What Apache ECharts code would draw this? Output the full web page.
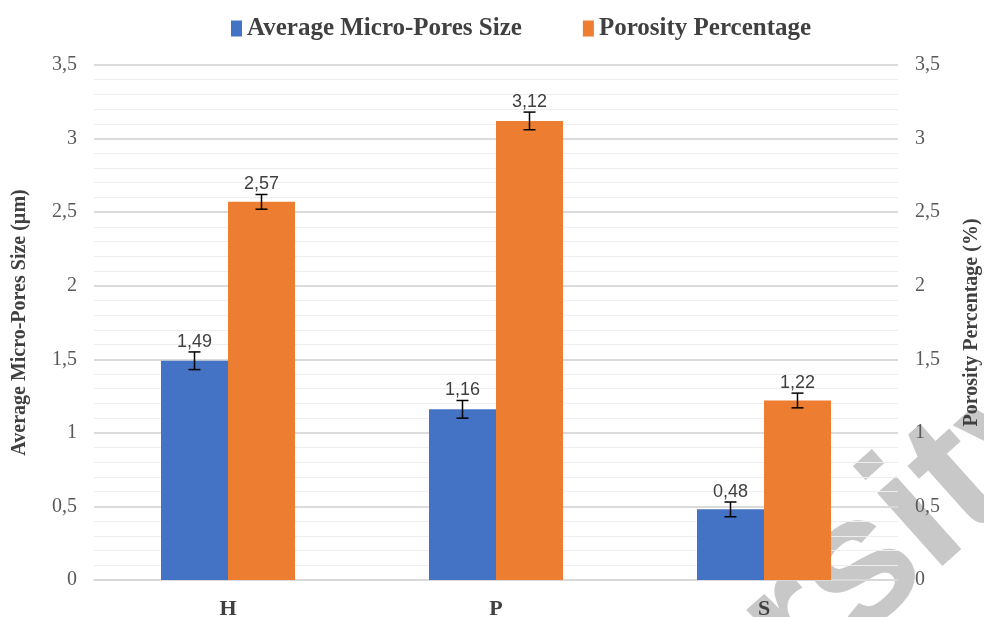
<!DOCTYPE html>
<html>
<head>
<meta charset="utf-8">
<script src="https://cdn.jsdelivr.net/npm/echarts@6/dist/echarts.min.js"></script>
<style>html,body{margin:0;padding:0;background:#fff}#c{width:984px;height:617px}</style>
</head>
<body>
<div id="c"></div>
<script>
var categories = ['H', 'P', 'S'];
var poreSize = [1.49, 1.16, 0.48];
var poreSizeErr = [0.06, 0.06, 0.05];
var porosity = [2.57, 3.12, 1.22];
var porosityErr = [0.05, 0.06, 0.05];
var seriesNames = ['Average Micro-Pores Size', 'Porosity Percentage'];
var axisNames = ['Average Micro-Pores Size (µm)', 'Porosity Percentage (%)'];
var colors = ['#4472C4', '#ED7D31'];

function comma(v) { return String(v).replace('.', ','); }

function errRenderer(values, errs, side) {
  return function (params, api) {
    var i = api.value(0);
    var v = values[i], e = errs[i];
    var band = api.size([1, 0])[0];
    var c = api.coord([i, v]);
    var x = c[0] + side * band * 0.125;
    var top = api.coord([i, v + e])[1];
    var bot = api.coord([i, v - e])[1];
    var cap = 6;
    var ls = { stroke: '#000', lineWidth: 1.5 };
    return {
      type: 'group',
      children: [
        { type: 'line', shape: { x1: x, y1: top, x2: x, y2: bot }, style: ls },
        { type: 'line', shape: { x1: x - cap, y1: top, x2: x + cap, y2: top }, style: ls },
        { type: 'line', shape: { x1: x - cap, y1: bot, x2: x + cap, y2: bot }, style: ls },
        { type: 'text', x: x, y: top - 1, style: { text: comma(v), fill: '#404040', font: '18px "Liberation Sans", Arial, sans-serif', textAlign: 'center', textVerticalAlign: 'bottom' } }
      ]
    };
  };
}

var yAxisCommon = {
  type: 'value', min: 0, max: 3.5, interval: 0.5,
  axisLine: { show: false }, axisTick: { show: false },
  axisLabel: { formatter: function (v) { return comma(v); }, color: '#595959', fontSize: 20, fontFamily: '"Liberation Serif", "Times New Roman", serif', margin: 17 },
  splitLine: { show: true, lineStyle: { color: '#d9d9d9', width: 1.5 } },
  minorTick: { show: false, splitNumber: 5 },
  minorSplitLine: { show: true, lineStyle: { color: '#eeeeee', width: 1.2 } },
  nameLocation: 'middle', nameRotate: 90,
  nameTextStyle: { fontSize: 20, fontWeight: 'bold', color: '#404040', fontFamily: '"Liberation Serif", "Times New Roman", serif' }
};

var chart = echarts.init(document.getElementById('c'), null, { renderer: 'canvas' });
chart.setOption({
  animation: false,
  backgroundColor: '#fff',
  legend: {
    top: 11, left: 226, itemGap: 61, itemWidth: 11, itemHeight: 16, icon: 'rect',
    textStyle: { fontSize: 25, fontWeight: 'bold', color: '#404040', fontFamily: '"Liberation Serif", "Times New Roman", serif' },
    data: seriesNames
  },
  grid: { left: 94, right: 86, top: 65, bottom: 37, outerBoundsMode: 'none', containLabel: false },
  xAxis: {
    type: 'category', data: categories,
    axisLine: { show: true, lineStyle: { color: '#d9d9d9', width: 1.5 } },
    axisTick: { show: false },
    axisLabel: { color: '#404040', fontSize: 22, fontWeight: 'bold', fontFamily: '"Liberation Serif", "Times New Roman", serif', margin: 18 }
  },
  yAxis: [
    Object.assign({}, yAxisCommon, { name: axisNames[0], nameGap: 64, position: 'left' }),
    Object.assign({}, yAxisCommon, { name: axisNames[1], nameGap: 64, position: 'right', nameRotate: 90 })
  ],
  series: [
    { name: seriesNames[0], type: 'bar', data: poreSize, yAxisIndex: 0, barGap: '0%', barCategoryGap: '50%', itemStyle: { color: colors[0] } },
    { name: seriesNames[1], type: 'bar', data: porosity, yAxisIndex: 1, barGap: '0%', barCategoryGap: '50%', itemStyle: { color: colors[1] } },
    { type: 'custom', yAxisIndex: 0, data: [0, 1, 2], renderItem: errRenderer(poreSize, poreSizeErr, -1), z: 5, silent: true },
    { type: 'custom', yAxisIndex: 1, data: [0, 1, 2], renderItem: errRenderer(porosity, porosityErr, 1), z: 5, silent: true }
  ],
  graphic: [{
    type: 'text', x: 830, y: 722, rotation: 0.73, z: -1, silent: true,
    style: { text: 'rsity', fill: '#c8c8c8', font: 'bold 185px "Liberation Sans", Arial, sans-serif', textAlign: 'left', textVerticalAlign: 'bottom' }
  }]
});
</script>
</body>
</html>
